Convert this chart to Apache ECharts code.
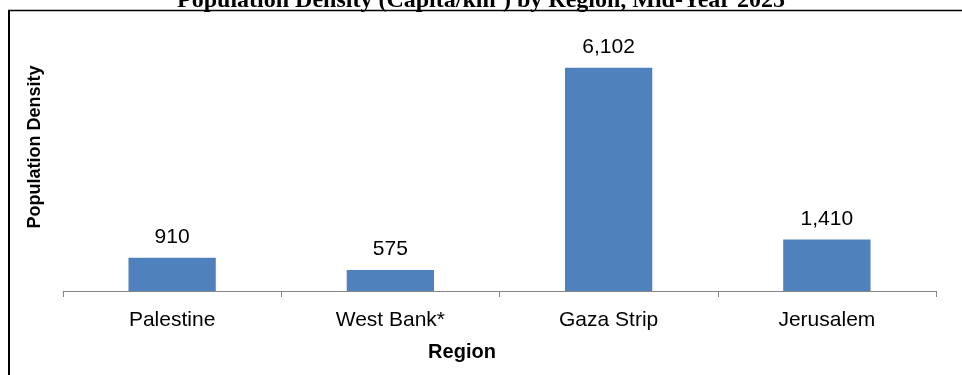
<!DOCTYPE html>
<html>
<head>
<meta charset="utf-8">
<script src="https://cdn.jsdelivr.net/npm/echarts@6/dist/echarts.min.js"></script>
<style>html,body{margin:0;padding:0;background:#fff}#c{width:962px;height:375px}</style>
</head>
<body>
<div id="c"></div>
<script>
const categories = ['Palestine', 'West Bank*', 'Gaza Strip', 'Jerusalem'];
const densityValues = [910, 575, 6102, 1410];
const titleText = 'Population Density (Capita/km\u00B2) by Region, Mid-Year 2025';
const yAxisTitle = 'Population Density';
const xAxisTitle = 'Region';

const chart = echarts.init(document.getElementById('c'), null, {renderer: 'canvas'});
chart.setOption({
  animation: false,
  title: {
    text: titleText,
    left: 'center',
    top: -16,
    textStyle: {fontFamily: 'Liberation Serif', fontWeight: 'bold', fontSize: 24, color: '#000'}
  },
  grid: {left: 63, right: 26, top: 35, bottom: 84},
  xAxis: {
    type: 'category',
    data: categories,
    axisLine: {lineStyle: {color: '#868686', width: 1}},
    axisTick: {show: true, length: 6, lineStyle: {color: '#868686'}},
    axisLabel: {fontFamily: 'Liberation Sans', fontSize: 21, color: '#000', margin: 19}
  },
  yAxis: {
    type: 'value',
    min: 0,
    max: 7000,
    show: false
  },
  graphic: [
    {type: 'line', shape: {x1: 8, y1: 10.5, x2: 962, y2: 10.5}, style: {stroke: '#000', lineWidth: 1.5}},
    {type: 'line', shape: {x1: 9, y1: 10, x2: 9, y2: 375}, style: {stroke: '#000', lineWidth: 2}},
    {type: 'text', x: 35, y: 147, rotation: Math.PI / 2,
      style: {text: yAxisTitle, font: 'bold 18px "Liberation Sans"', fill: '#000', textAlign: 'center', textVerticalAlign: 'middle'}},
    {type: 'text', x: 462, y: 352,
      style: {text: xAxisTitle, font: 'bold 20px "Liberation Sans"', fill: '#000', textAlign: 'center', textVerticalAlign: 'middle'}}
  ],
  series: [{
    type: 'bar',
    data: densityValues,
    barWidth: '40%',
    itemStyle: {color: '#4F81BD'},
    label: {
      show: true,
      position: 'top',
      distance: 10,
      fontFamily: 'Liberation Sans',
      fontSize: 21,
      color: '#000',
      formatter: p => p.value.toLocaleString('en-US')
    }
  }]
});
</script>
</body>
</html>
